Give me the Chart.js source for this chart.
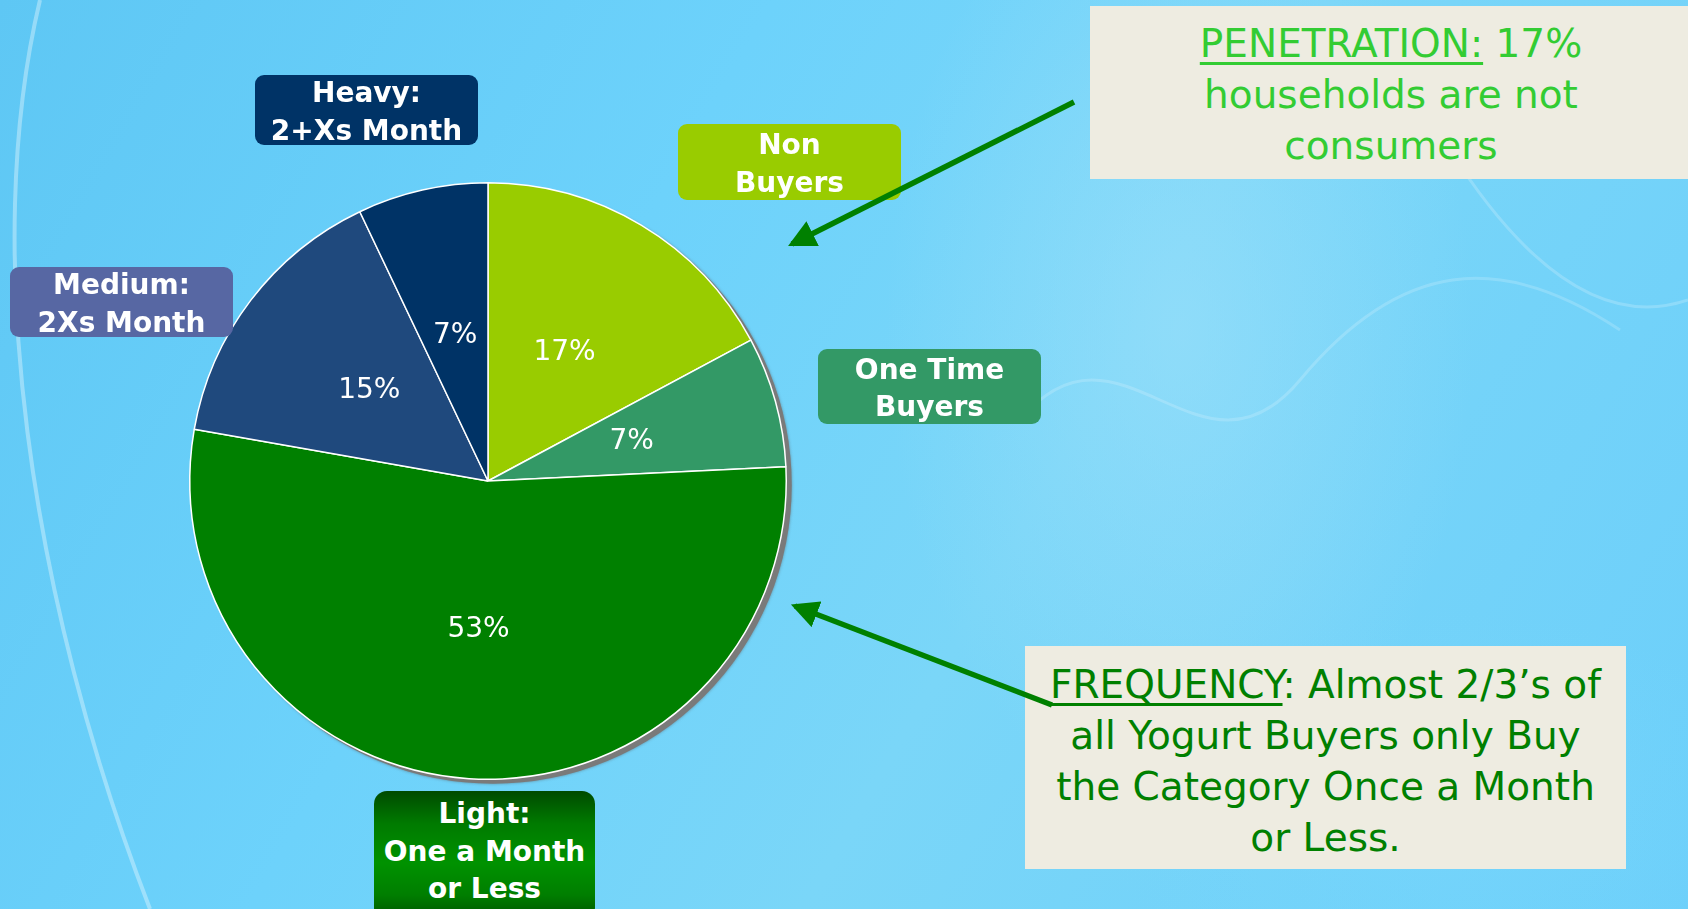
<!DOCTYPE html>
<html>
<head>
<meta charset="utf-8">
<script src="https://cdn.jsdelivr.net/npm/chart.js@4.4.1/dist/chart.umd.min.js"></script>
<style>
  html, body { margin: 0; padding: 0; }
  body {
    width: 1688px; height: 909px; overflow: hidden; position: relative;
    font-family: "DejaVu Sans", Verdana, sans-serif;
    background:
      radial-gradient(ellipse 420px 700px at 1180px 330px, rgba(160,225,250,0.55), rgba(160,225,250,0) 70%),
      radial-gradient(ellipse 500px 300px at 1450px 820px, rgba(120,215,252,0.5), rgba(120,215,252,0) 70%),
      linear-gradient(120deg, #5ec7f4 0%, #6dd2fb 35%, #7ad6f8 60%, #6ccffa 100%);
  }
  #bgsvg { position: absolute; left: 0; top: 0; }
  #chart { position: absolute; left: 0; top: 0; }
  .tag {
    position: absolute; box-sizing: border-box;
    display: flex; flex-direction: column; justify-content: center; align-items: center;
    color: #fff; font-weight: bold; font-size: 28px; line-height: 37.5px;
    border-radius: 9px; white-space: nowrap; padding-top: 3px;
  }
  .note {
    position: absolute; box-sizing: border-box; background: #EEECE1;
  }
  .notetext {
    position: absolute; text-align: center; font-size: 39px; line-height: 51px; white-space: nowrap;
  }
  .u { text-decoration: underline; text-decoration-thickness: 3px; text-underline-offset: 5px; }
  #arrows { position: absolute; left: 0; top: 0; }
</style>
</head>
<body>
<svg id="bgsvg" width="1688" height="909">
  <path d="M 40 0 C -20 250, 30 600, 150 909" stroke="rgba(255,255,255,0.35)" stroke-width="4" fill="none"/>
  <path d="M 1020 420 C 1120 300, 1200 500, 1300 380 S 1500 250, 1620 330" stroke="rgba(255,255,255,0.18)" stroke-width="3" fill="none"/>
  <path d="M 1450 150 C 1520 260, 1600 330, 1688 300" stroke="rgba(255,255,255,0.2)" stroke-width="3" fill="none"/>
</svg>
<canvas id="chart" width="1688" height="909"></canvas>

<div class="tag" style="left:255px;top:75px;width:223px;height:70px;background:#003366;"><div>Heavy:</div><div>2+Xs Month</div></div>
<div class="tag" style="left:678px;top:124px;width:223px;height:76px;background:#99CC00;"><div>Non</div><div>Buyers</div></div>
<div class="tag" style="left:10px;top:267px;width:223px;height:70px;background:#5767A3;"><div>Medium:</div><div>2Xs Month</div></div>
<div class="tag" style="left:818px;top:349px;width:223px;height:75px;background:#339966;"><div>One Time</div><div>Buyers</div></div>
<div class="tag" style="left:374px;top:791px;width:221px;height:130px;justify-content:flex-start;padding-top:4px;border-radius:13px;background:linear-gradient(#004a00 0%, #007a00 25%, #009200 55%, #007e00 80%, #005200 100%);"><div>Light:</div><div>One a Month</div><div>or Less</div></div>

<div class="note" style="left:1090px;top:6px;width:598px;height:173px;"></div>
<div class="notetext" style="left:1090px;width:602px;top:18px;color:#33CC33;">
  <div><span class="u">PENETRATION:</span> 17%</div>
  <div>households are not</div>
  <div>consumers</div>
</div>
<div class="note" style="left:1025px;top:646px;width:601px;height:223px;"></div>
<div class="notetext" style="left:1025px;width:601px;top:659px;color:#008000;">
  <div><span class="u">FREQUENCY</span>: Almost 2/3’s of</div>
  <div>all Yogurt Buyers only Buy</div>
  <div>the Category Once a Month</div>
  <div>or Less.</div>
</div>

<svg id="arrows" width="1688" height="909">
  <defs>
    <marker id="ah" markerWidth="5" markerHeight="5" refX="4.2" refY="2.5" orient="auto" markerUnits="strokeWidth">
      <path d="M0,0 L5,2.5 L0,5 z" fill="#008000"/>
    </marker>
  </defs>
  <line x1="1074" y1="102" x2="792" y2="244" stroke="#008000" stroke-width="5.5" marker-end="url(#ah)"/>
  <line x1="1052" y1="705" x2="795" y2="606" stroke="#008000" stroke-width="5.5" marker-end="url(#ah)"/>
</svg>

<script>
const categories = ["Non Buyers", "One Time Buyers", "Light: One a Month or Less", "Medium: 2Xs Month", "Heavy: 2+Xs Month"];
const shares = [17, 7, 53, 15, 7];
const sliceColors = ["#99CC00", "#339966", "#008000", "#1F497D", "#003366"];

const pieShadow = {
  id: "pieShadow",
  beforeDatasetsDraw(chart) {
    const arc = chart.getDatasetMeta(0).data[0];
    if (!arc) return;
    const ctx = chart.ctx;
    ctx.save();
    ctx.fillStyle = "#7a7a7a";
    ctx.shadowColor = "rgba(90,90,90,0.6)";
    ctx.shadowBlur = 3;
    ctx.beginPath();
    ctx.arc(arc.x + 5, arc.y + 4, arc.outerRadius + 0.5, 0, Math.PI * 2);
    ctx.fill();
    ctx.restore();
  }
};

const sliceLabels = {
  id: "sliceLabels",
  afterDatasetsDraw(chart) {
    const ctx = chart.ctx;
    const ds = chart.data.datasets[0];
    ctx.save();
    ctx.fillStyle = "#ffffff";
    ctx.font = "28px 'DejaVu Sans'";
    ctx.textAlign = "center";
    ctx.textBaseline = "middle";
    chart.getDatasetMeta(0).data.forEach((arc, i) => {
      const p = arc.tooltipPosition();
      ctx.fillText(ds.data[i] + "%", p.x, p.y);
    });
    ctx.restore();
  }
};

new Chart(document.getElementById("chart"), {
  type: "pie",
  data: {
    labels: categories,
    datasets: [{
      data: shares,
      backgroundColor: sliceColors,
      borderColor: "#ffffff",
      borderWidth: 1.5,
      hoverOffset: 0,
      offset: 0
    }]
  },
  options: {
    responsive: false,
    animation: false,
    devicePixelRatio: 1,
    layout: { padding: { left: 189, top: 182, right: 901, bottom: 129 } },
    plugins: { legend: { display: false }, tooltip: { enabled: false } },
    events: []
  },
  plugins: [pieShadow, sliceLabels]
});
</script>
</body>
</html>
